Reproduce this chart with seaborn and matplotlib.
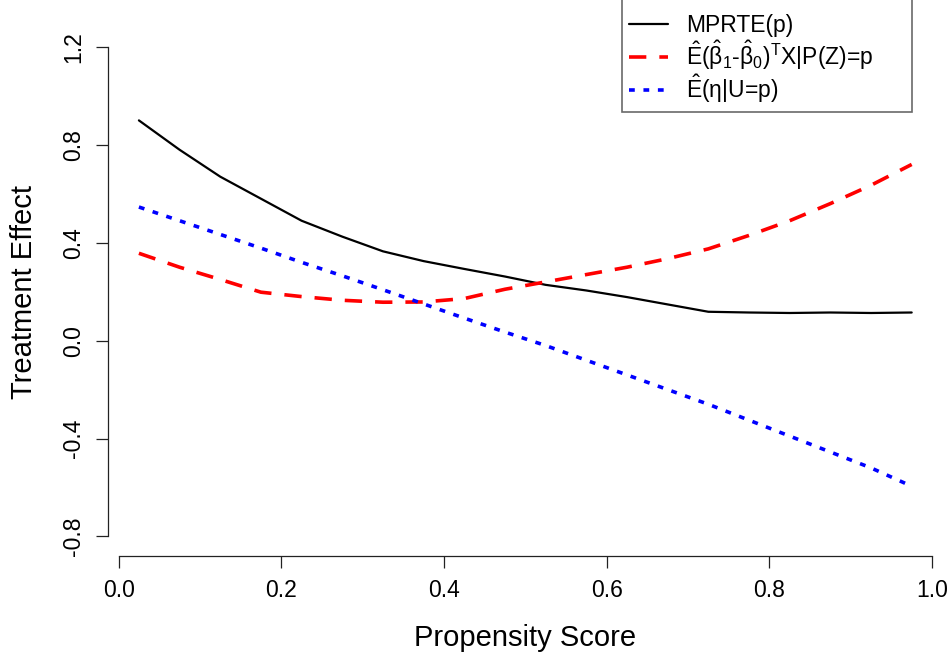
import numpy as np
import pandas as pd
import matplotlib
matplotlib.use("Agg")
import matplotlib.pyplot as plt
import seaborn as sns

# propensity score grid and the three curves
p = [0.025, 0.075, 0.125, 0.175, 0.225, 0.275, 0.325, 0.375, 0.425, 0.475,
     0.525, 0.575, 0.625, 0.675, 0.725, 0.775, 0.825, 0.875, 0.925, 0.975]
mprte = [0.90, 0.78, 0.67, 0.58, 0.49, 0.425, 0.365, 0.325, 0.293, 0.262,
         0.228, 0.205, 0.178, 0.148, 0.118, 0.115, 0.113, 0.115, 0.113, 0.115]
beta_part = [0.357, 0.30, 0.25, 0.198, 0.18, 0.165, 0.157, 0.158, 0.172, 0.21,
             0.24, 0.27, 0.30, 0.335, 0.375, 0.43, 0.49, 0.56, 0.635, 0.72]
eta_part = [0.546, 0.49, 0.434, 0.378, 0.32, 0.265, 0.208, 0.15, 0.092, 0.035,
            -0.02, -0.08, -0.14, -0.20, -0.26, -0.325, -0.39, -0.455, -0.52, -0.595]

labels = ["MPRTE(p)",
          r"$\mathregular{\hat{E}(\hat{\beta}_1\text{-}\hat{\beta}_0)^T}$X|P(Z)=p",
          r"$\mathregular{\hat{E}(\eta}$|U=p)"]

df = pd.DataFrame({
    "p": p * 3,
    "effect": mprte + beta_part + eta_part,
    "series": [labels[0]] * len(p) + [labels[1]] * len(p) + [labels[2]] * len(p),
})

sns.set_style("ticks")
plt.rcParams["font.family"] = ["Liberation Sans", "DejaVu Sans"]
plt.rcParams["mathtext.fontset"] = "custom"
plt.rcParams["mathtext.rm"] = "Liberation Sans"
plt.rcParams["mathtext.it"] = "Liberation Sans"
plt.rcParams["text.color"] = "black"
plt.rcParams["axes.labelcolor"] = "black"
plt.rcParams["xtick.color"] = "black"
plt.rcParams["ytick.color"] = "black"

fig = plt.figure(figsize=(9.49, 6.6), dpi=100)
ax = fig.add_axes([108 / 949, 104 / 660, 834.6 / 949, 528.6 / 660])

sns.lineplot(data=df, x="p", y="effect", hue="series", style="series",
             palette={labels[0]: "black", labels[1]: "red", labels[2]: "blue"},
             dashes={labels[0]: "", labels[1]: (4.8, 3.6), labels[2]: (1.6, 2.4)},
             legend=False, ax=ax)
for line, lw in zip(ax.lines, [1.6, 2.6, 2.6]):
    line.set_linewidth(lw)
    line.set_dash_capstyle("butt")

ax.set_xlim(-0.013, 1.013)
ax.set_ylim(-0.88, 1.28)
ax.set_xticks([0.0, 0.2, 0.4, 0.6, 0.8, 1.0])
ax.set_xticklabels(["0.0", "0.2", "0.4", "0.6", "0.8", "1.0"])
ax.set_yticks([-0.8, -0.4, 0.0, 0.4, 0.8, 1.2])
ax.set_yticklabels(["-0.8", "-0.4", "0.0", "0.4", "0.8", "1.2"], rotation=90, va="center")
for s in ["top", "right"]:
    ax.spines[s].set_visible(False)
ax.spines["bottom"].set_bounds(0, 1)
ax.spines["left"].set_bounds(-0.8, 1.2)
for s in ["bottom", "left"]:
    ax.spines[s].set_linewidth(0.9)
    ax.spines[s].set_color("#222222")
ax.tick_params(length=8.5, width=0.9, color="#222222", labelsize=16.5, pad=8)
ax.set_xlabel("Propensity Score", fontsize=21, labelpad=16)
ax.set_ylabel("Treatment Effect", fontsize=21, labelpad=17)

handles = ax.lines[:3]
leg = fig.legend(handles, labels, loc="lower left",
                 bbox_to_anchor=(622 / 949, (660 - 112) / 660, 290 / 949, 0),
                 mode="expand",
                 fontsize=16.5, frameon=True, fancybox=False, handlelength=1.7,
                 handletextpad=0.8, labelspacing=0.05, borderpad=0.3,
                 borderaxespad=0, title=" ", title_fontsize=16)
leg.get_frame().set_edgecolor("#444444")
leg.get_frame().set_linewidth(1.2)

fig.savefig("out.png", dpi=100)
